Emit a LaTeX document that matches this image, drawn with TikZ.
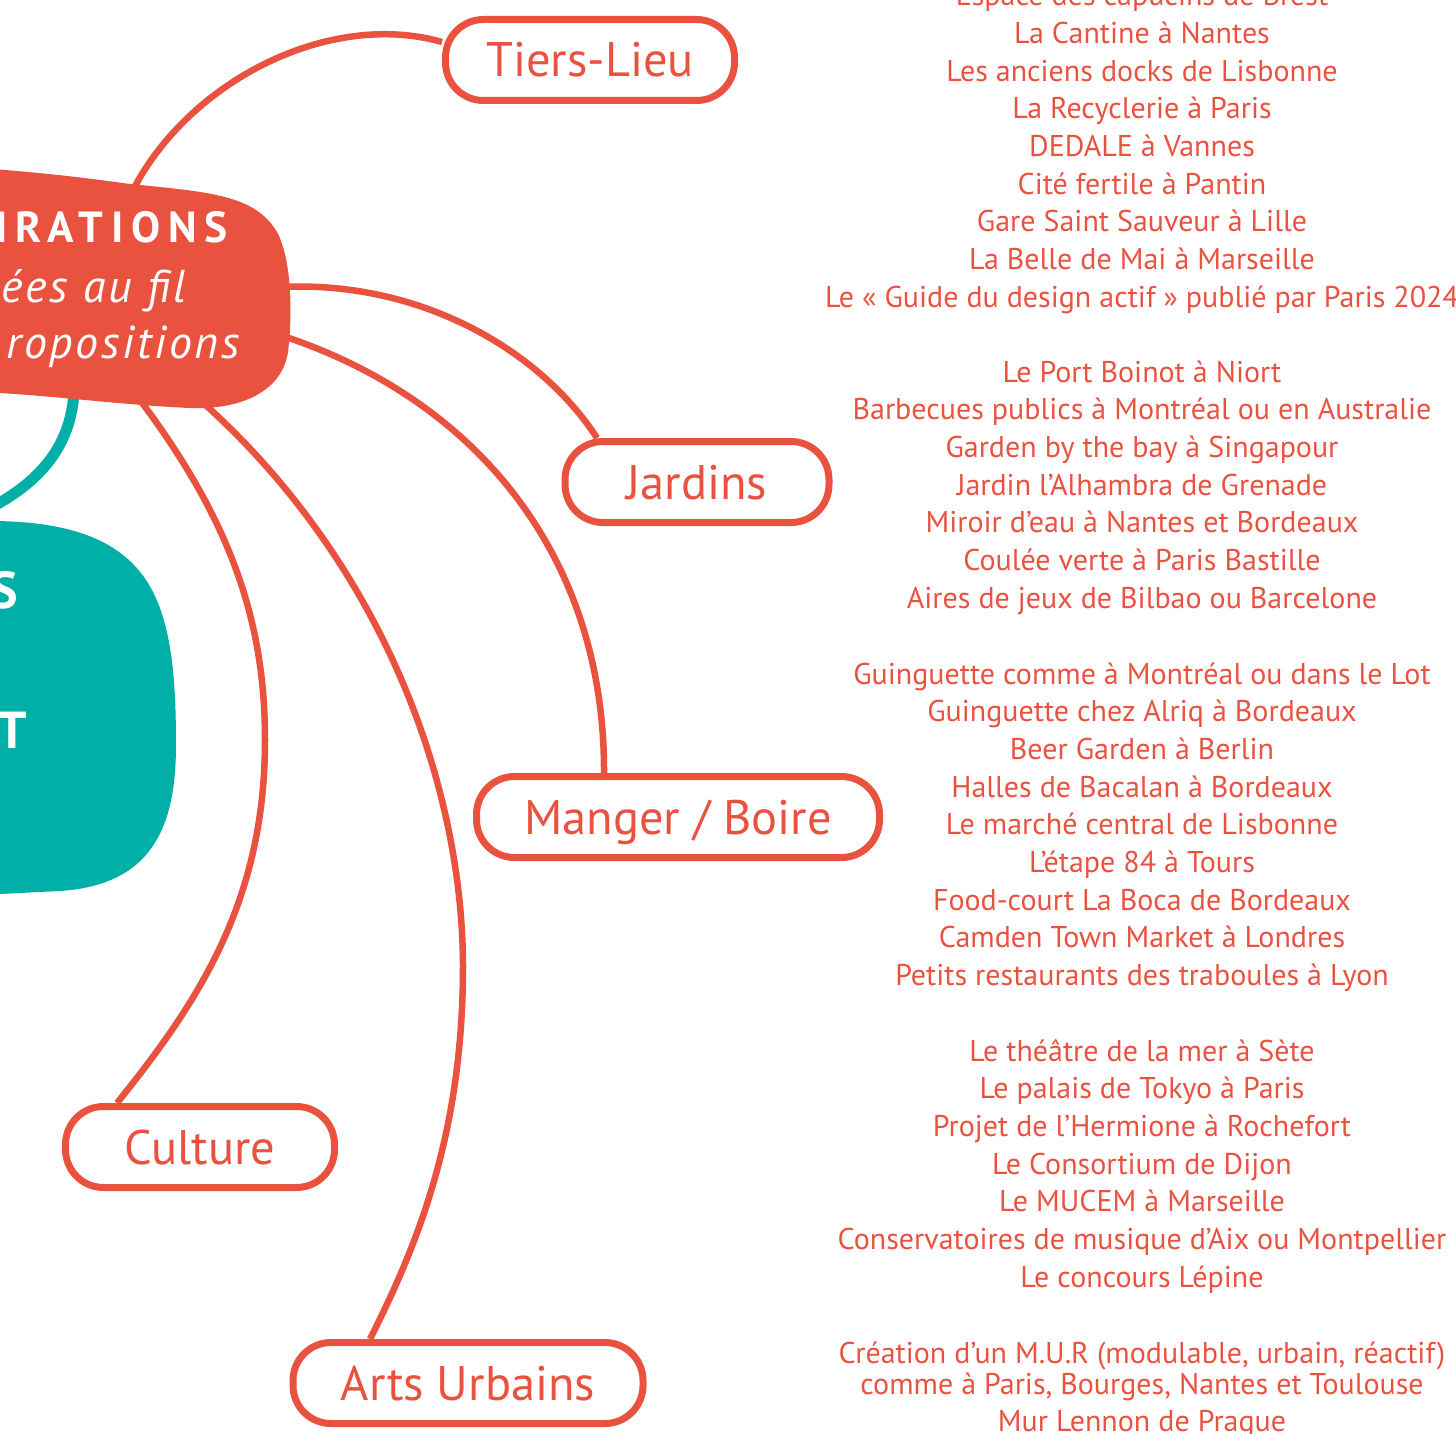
\documentclass[tikz,border=0pt]{standalone}
\usepackage{fontspec}
\setmainfont{PT Sans}
\usetikzlibrary{backgrounds}
\definecolor{inspred}{HTML}{EA5240}
\definecolor{inspteal}{HTML}{00B0A8}
\begin{document}
\begin{tikzpicture}[x=1pt, y=-1pt,
  tag/.style={draw=inspred, line width=7pt, fill=white, rounded corners=38pt,
    text=inspred, font=\fontsize{48.5}{48.5}\selectfont, minimum height=81pt,
    text height=34pt, text depth=0pt},
  link/.style={draw=inspred, line width=6.5pt},
  ref/.style={text=inspred, align=center, anchor=base,
    font=\fontsize{30}{37.7}\selectfont},
  blobtext/.style={text=white, anchor=base east, inner sep=0pt}]
\useasboundingbox (0,0) rectangle (1456,1434);
\clip (0,0) rectangle (1456,1434);

\fill[inspteal] (-20,521) .. controls (60,520) and (118,535) .. (148,583)
  .. controls (172,622) and (176,680) .. (176,745)
  .. controls (176,830) and (150,885) .. (60,891) -- (-20,895) -- cycle;
\fill[inspred] (-20,168) .. controls (60,174) and (100,180) .. (130,184)
  .. controls (210,192) and (255,195) .. (277,232)
  .. controls (293,262) and (292,320) .. (288,352)
  .. controls (282,392) and (240,410) .. (190,408)
  .. controls (120,405) and (50,395) .. (-20,392) -- cycle;

\coordinate (insp-n) at (133,190);
\coordinate (insp-e1) at (280,287);
\coordinate (insp-e2) at (280,335);
\coordinate (insp-s) at (74,390);
\coordinate (insp-s1) at (140,400);
\coordinate (insp-s2) at (200,400);
\coordinate (teal-n) at (-10,508);

\node (insp1) [blobtext, font=\fontsize{43.5}{43.5}\selectfont\bfseries\addfontfeatures{LetterSpace=18}] at (228,243) {IRATIONS};
\node (insp2) [blobtext, font=\fontsize{46}{46}\selectfont\itshape\addfontfeatures{LetterSpace=6}] at (186,302) {ées au fil};
\node (insp3) [blobtext, font=\fontsize{46}{46}\selectfont\itshape\addfontfeatures{LetterSpace=6}] at (240,358) {ropositions};
\node (teal1) [blobtext, font=\fontsize{52}{52}\selectfont\bfseries] at (18,608) {S};
\node (teal2) [blobtext, font=\fontsize{52}{52}\selectfont\bfseries] at (27,748) {T};

\node (tiers) [tag, minimum width=289pt] at (590,60) {Tiers-Lieu};
\node (jardins) [tag, minimum width=264pt] at (697,482) {Jardins};
\node (manger) [tag, minimum width=403pt] at (678,817) {Manger / Boire};
\node (culture) [tag, minimum width=269pt] at (200,1147) {Culture};
\node (arts) [tag, minimum width=350pt] at (468,1383) {Arts Urbains};

\begin{scope}[on background layer]
\draw[inspteal, line width=11pt] (insp-s) .. controls (72,445) and (40,482) .. (teal-n);
\draw[link] (insp-n) .. controls (190,80) and (330,10) .. ([yshift=18pt]tiers.west);
\draw[link] (insp-e1) .. controls (420,280) and (540,350) .. ([xshift=-100pt]jardins.north);
\draw[link] (insp-e2) .. controls (480,400) and (605,560) .. ([xshift=-74pt]manger.north);
\draw[link] (insp-s1) .. controls (230,520) and (265,620) .. (265,740)
  .. controls (265,900) and (200,1000) .. ([xshift=-83pt]culture.north);
\draw[link] (insp-s2) .. controls (380,560) and (462,780) .. (463,965)
  .. controls (463,1130) and (420,1240) .. ([xshift=-98pt]arts.north);
\end{scope}

\node (list1) [ref] at (1142,307.2) {Espace des capucins de Brest\\
  La Cantine à Nantes\\
  Les anciens docks de Lisbonne\\
  La Recyclerie à Paris\\
  DEDALE à Vannes\\
  Cité fertile à Pantin\\
  Gare Saint Sauveur à Lille\\
  La Belle de Mai à Marseille\\
  Le «~Guide du design actif~» publié par Paris 2024};
\node (list2) [ref] at (1142,608.2) {Le Port Boinot à Niort\\
  Barbecues publics à Montréal ou en Australie\\
  Garden by the bay à Singapour\\
  Jardin l’Alhambra de Grenade\\
  Miroir d’eau à Nantes et Bordeaux\\
  Coulée verte à Paris Bastille\\
  Aires de jeux de Bilbao ou Barcelone};
\node (list3) [ref] at (1142,985.6) {Guinguette comme à Montréal ou dans le Lot\\
  Guinguette chez Alriq à Bordeaux\\
  Beer Garden à Berlin\\
  Halles de Bacalan à Bordeaux\\
  Le marché central de Lisbonne\\
  L’étape 84 à Tours\\
  Food-court La Boca de Bordeaux\\
  Camden Town Market à Londres\\
  Petits restaurants des traboules à Lyon};
\node (list4) [ref] at (1142,1287.2) {Le théâtre de la mer à Sète\\
  Le palais de Tokyo à Paris\\
  Projet de l’Hermione à Rochefort\\
  Le Consortium de Dijon\\
  Le MUCEM à Marseille\\
  Conservatoires de musique d’Aix ou Montpellier\\
  Le concours Lépine};
\node (list5) [ref] at (1142,1431.7) {Création d’un M.U.R (modulable, urbain, réactif)\\[-6.7pt]
  comme à Paris, Bourges, Nantes et Toulouse\\
  Mur Lennon de Prague};
\end{tikzpicture}
\end{document}
